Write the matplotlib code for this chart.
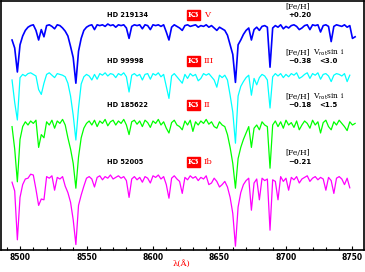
import numpy as np
import matplotlib
matplotlib.use("Agg")
import matplotlib.pyplot as plt
from matplotlib.ticker import MultipleLocator

# ---------------- data (normalised flux on a 2 A grid, 8494..8752 A) ----------------
wave_start, wave_step, n_pix = 8494, 2, 130
wavelength = wave_start + wave_step * np.arange(n_pix)

flux_k3v = [
    0.80, 0.70, 0.40, 0.74, 0.85, 0.92, 0.96, 0.98, 0.99, 0.92,
    0.80, 0.93, 0.84, 0.98, 0.99, 0.97, 0.94, 0.99, 0.98, 0.95,
    0.91, 0.85, 0.72, 0.58, 0.26, 0.66, 0.82, 0.92, 0.96, 0.98,
    0.99, 0.93, 0.99, 0.98, 0.99, 0.97, 1.00, 0.98, 0.99, 0.96,
    0.99, 0.98, 0.99, 0.95, 0.82, 0.97, 0.99, 0.98, 0.99, 0.94,
    0.99, 0.98, 0.93, 0.99, 0.98, 0.99, 0.97, 0.99, 0.90, 0.80,
    0.96, 0.99, 0.97, 0.95, 0.92, 0.98, 0.99, 0.97, 0.98, 0.99,
    0.96, 0.98, 0.97, 0.99, 0.96, 0.98, 0.95, 0.92, 0.96, 0.94,
    0.92, 0.86, 0.74, 0.62, 0.27, 0.74, 0.80, 0.87, 0.92, 0.95,
    0.80, 0.93, 0.96, 0.92, 0.97, 0.98, 0.96, 0.46, 0.95, 0.98,
    0.96, 0.99, 0.94, 0.97, 0.95, 0.98, 0.99, 0.97, 0.93, 0.95,
    0.98, 0.99, 0.93, 0.99, 0.98, 0.99, 0.90, 0.98, 0.99, 0.97,
    0.78, 0.97, 0.99, 0.98, 0.97, 0.99, 0.96, 0.98, 0.82, 0.84,
]
flux_k3iii = [
    0.90, 0.62, 0.40, 0.93, 0.97, 0.95, 0.98, 0.99, 0.97, 0.95,
    0.78, 0.72, 0.86, 0.97, 0.99, 0.96, 0.93, 0.98, 0.97, 0.96,
    0.94, 0.86, 0.70, 0.46, 0.15, 0.55, 0.85, 0.94, 0.97, 0.95,
    0.90, 0.97, 0.91, 0.98, 0.96, 0.99, 0.95, 0.98, 0.97, 0.93,
    0.98, 0.96, 0.99, 0.94, 0.75, 0.96, 0.98, 0.95, 0.97, 0.90,
    0.97, 0.98, 0.91, 0.98, 0.96, 0.99, 0.94, 0.97, 0.82, 0.67,
    0.95, 0.98, 0.94, 0.90, 0.86, 0.97, 0.92, 0.98, 0.95, 0.97,
    0.89, 0.92, 0.98, 0.96, 0.98, 0.94, 0.90, 0.81, 0.96, 0.93,
    0.96, 0.90, 0.71, 0.50, 0.11, 0.70, 0.82, 0.88, 0.93, 0.96,
    0.71, 0.92, 0.84, 0.93, 0.97, 0.95, 0.90, 0.55, 0.94, 0.98,
    0.95, 0.98, 0.93, 0.97, 0.94, 0.98, 0.96, 0.99, 0.92, 0.94,
    0.97, 0.99, 0.92, 0.98, 0.96, 0.99, 0.91, 0.97, 0.98, 0.95,
    0.88, 0.96, 0.98, 0.97, 0.95, 0.98, 0.88, 0.96, np.nan, np.nan,
]
flux_k3ii = [
    0.88, 0.60, 0.19, 0.72, 0.88, 0.94, 0.90, 0.95, 0.92, 0.96,
    0.62, 0.78, 0.74, 0.94, 0.90, 0.96, 0.86, 0.95, 0.92, 0.97,
    0.90, 0.74, 0.60, 0.42, 0.11, 0.50, 0.74, 0.86, 0.92, 0.95,
    0.90, 0.96, 0.88, 0.95, 0.92, 0.97, 0.89, 0.94, 0.96, 0.90,
    0.95, 0.92, 0.97, 0.90, 0.78, 0.94, 0.96, 0.91, 0.95, 0.88,
    0.96, 0.93, 0.87, 0.95, 0.92, 0.97, 0.90, 0.94, 0.86, 0.80,
    0.93, 0.96, 0.90, 0.88, 0.84, 0.95, 0.90, 0.96, 0.82, 0.94,
    0.90, 0.95, 0.92, 0.97, 0.91, 0.94, 0.88, 0.86, 0.94, 0.90,
    0.88, 0.78, 0.62, 0.42, 0.11, 0.48, 0.62, 0.72, 0.80, 0.88,
    0.62, 0.86, 0.90, 0.84, 0.94, 0.90, 0.88, 0.36, 0.90, 0.95,
    0.88, 0.94, 0.86, 0.96, 0.90, 0.93, 0.87, 0.95, 0.84, 0.90,
    0.95, 0.92, 0.86, 0.96, 0.90, 0.94, 0.80, 0.93, 0.96, 0.88,
    0.84, 0.94, 0.90, 0.96, 0.92, 0.88, 0.83, 0.94, 0.90, 0.92,
]
flux_k3ib = [
    0.91, 0.80, 0.19, 0.72, 0.88, 0.95, 0.96, 1.01, 1.00, 0.82,
    0.62, 0.70, 0.69, 0.98, 0.96, 0.99, 0.81, 0.97, 0.95, 0.98,
    0.86, 0.78, 0.66, 0.44, 0.13, 0.62, 0.75, 0.86, 0.96, 0.98,
    0.95, 0.85, 0.97, 0.99, 0.94, 0.98, 0.96, 1.00, 0.95, 0.97,
    0.99, 0.96, 0.98, 0.93, 0.72, 0.95, 0.98, 0.94, 0.97, 0.91,
    0.98, 0.96, 0.90, 0.99, 0.97, 1.00, 0.95, 0.98, 0.88, 0.71,
    0.96, 0.99, 0.95, 0.92, 0.77, 0.97, 0.94, 0.99, 0.96, 0.98,
    0.93, 0.97, 0.95, 0.99, 0.88, 0.90, 0.96, 0.92, 0.85, 0.88,
    0.92, 0.85, 0.72, 0.52, 0.11, 0.60, 0.78, 0.88, 0.93, 0.96,
    0.56, 0.90, 0.95, 0.69, 0.96, 0.93, 0.95, 0.31, 0.94, 0.92,
    0.69, 0.98, 0.92, 0.96, 0.81, 0.97, 0.94, 0.98, 0.90, 0.95,
    0.97, 0.99, 0.92, 0.96, 0.98, 0.94, 0.97, 0.95, 0.81, 0.97,
    0.93, 0.77, 0.96, 0.98, 0.95, 0.88, 0.96, 0.84, np.nan, np.nan,
]

star_names = ["HD 219134", "HD 99998", "HD 185622", "HD 52005"]
lum_classes = ["V", "III", "II", "Ib"]
feh_values = ["+0.20", "\u22120.38", "\u22120.18", "\u22120.21"]
vsini_values = [None, "<3.0", "<1.5", None]
offsets = [1.825, 1.225, 0.6625, -0.0625]
colors = ["#0000ff", "#00ffff", "#00ff00", "#ff00ff"]
spectra = [flux_k3v, flux_k3iii, flux_k3ii, flux_k3ib]
xticks_major = [8500, 8550, 8600, 8650, 8700, 8750]

# ---------------- figure ----------------
W, H = 365, 272
fig = plt.figure(figsize=(W / 100, H / 100), dpi=100)
ax = fig.add_axes([1 / W, 1 - 250 / H, 362.5 / W, 249 / H])

for k, (f, off, c) in enumerate(zip(spectra, offsets, colors)):
    ax.plot(wavelength, np.array(f, dtype=float) + off, color=c,
            lw=1.2 if k == 0 else 0.9, zorder=10 - k)

ax.set_xlim(8485.7, 8758.3)
ax.set_ylim(0, 249 / 80)
ax.set_yticks([])
ax.set_xticks(xticks_major)
ax.xaxis.set_minor_locator(MultipleLocator(10))
ax.tick_params(axis="x", which="major", direction="in", length=3, width=0.8,
               pad=2.5, labelsize=5.5)
ax.tick_params(axis="x", which="minor", direction="in", length=2, width=0.8)
for lab in ax.get_xticklabels():
    lab.set_fontweight("bold")
for s in ax.spines.values():
    s.set_linewidth(1.2)

def P(x, y):
    return x / W, 1 - y / H

fig.text(*P(182, 264), "\u03bb(\u00c5)", color="red", fontsize=6,
         ha="center", va="center", family="DejaVu Serif")

label_y = [15, 61, 105, 162]
feh_head_y = [7, 53, 97, 153]
for k in range(4):
    y = label_y[k]
    fig.text(*P(107, y), star_names[k], fontsize=4.8, fontweight="bold",
             ha="left", va="center", color="black")
    fig.text(*P(188, y), "K3", fontsize=5.3, fontweight="bold", color="white",
             ha="left", va="center", family="DejaVu Serif",
             bbox=dict(facecolor="red", edgecolor="red", pad=0.6))
    fig.text(*P(204, y), lum_classes[k], fontsize=6, color="red",
             ha="left", va="center", family="DejaVu Serif")
    hy = feh_head_y[k]
    fig.text(*P(285, hy), "[Fe/H]", fontsize=5.5, ha="left", va="center",
             family="DejaVu Serif")
    fig.text(*P(288, y), feh_values[k], fontsize=5, fontweight="bold",
             ha="left", va="center")
    if vsini_values[k] is not None:
        fig.text(*P(313, hy), r"V$_{\rm rot}$sin i", fontsize=5.5,
                 ha="left", va="center", family="DejaVu Serif")
        fig.text(*P(319, y), vsini_values[k], fontsize=5, fontweight="bold",
                 ha="left", va="center")

fig.savefig("out.png", dpi=100)
